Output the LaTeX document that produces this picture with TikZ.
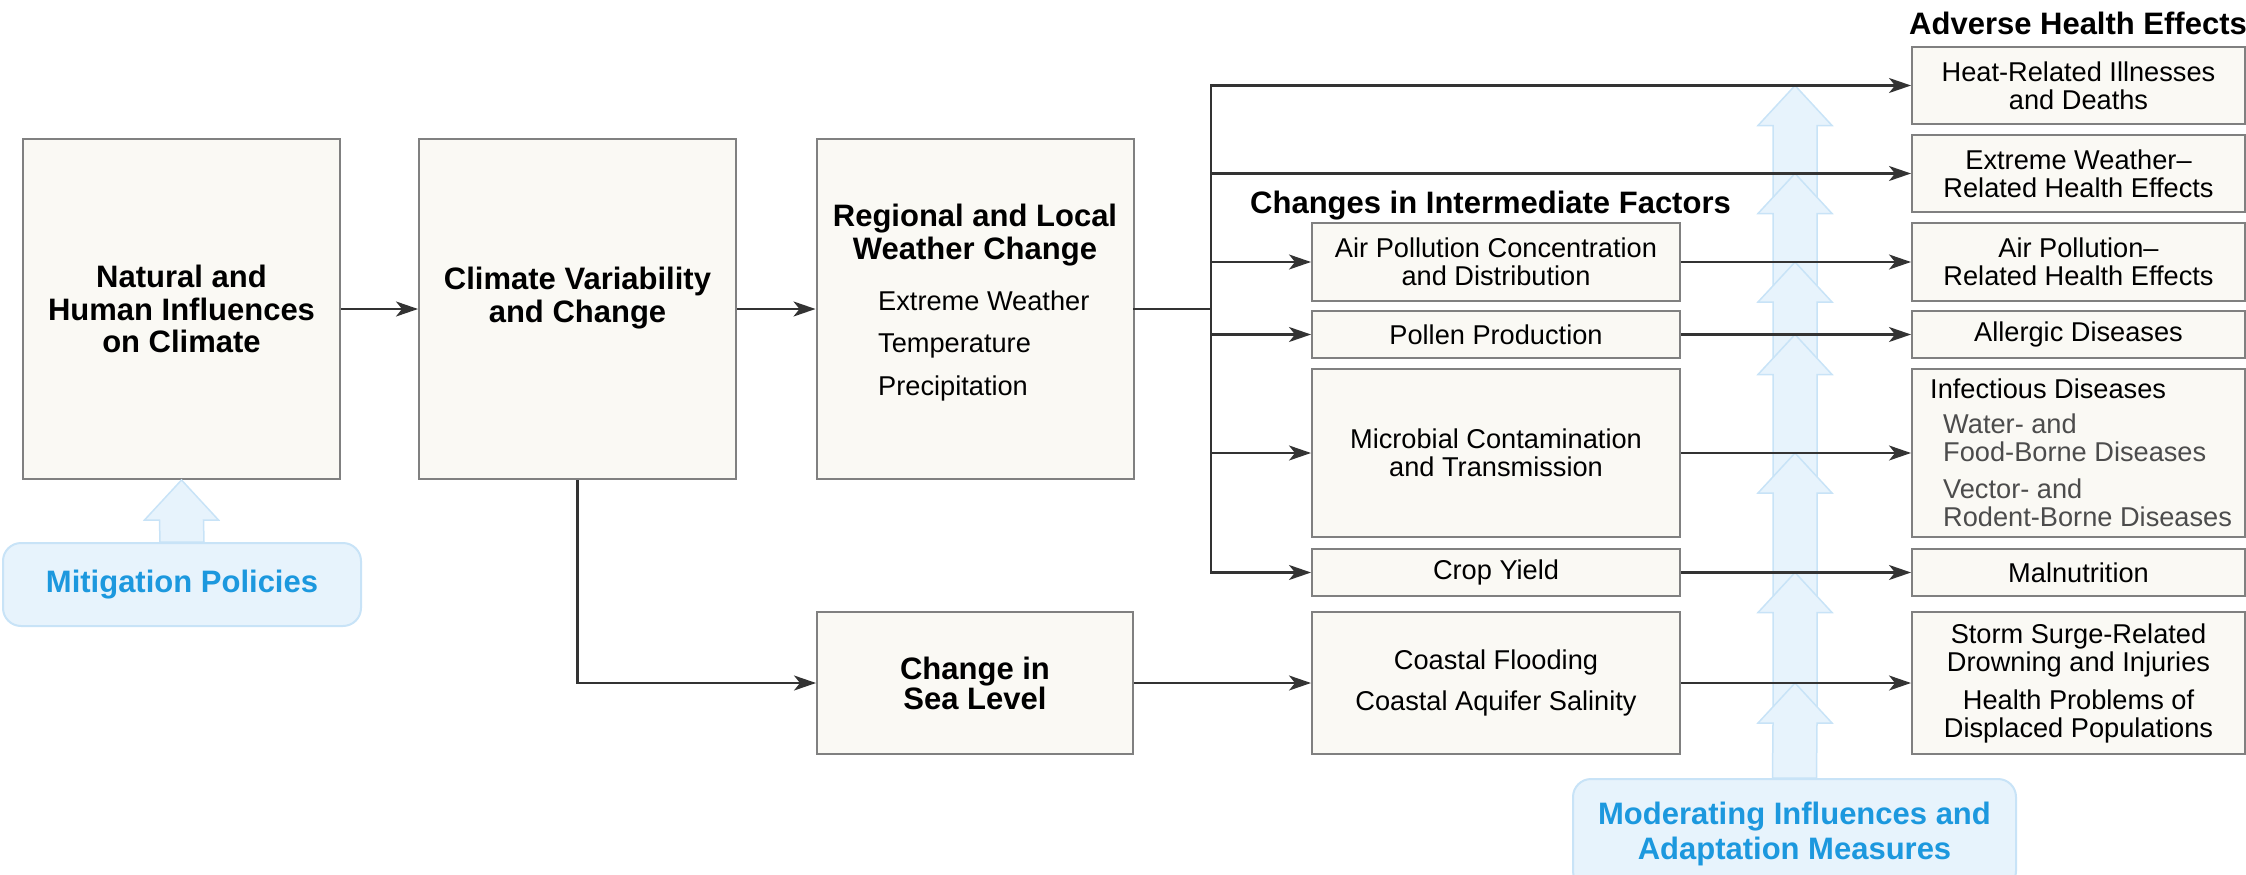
\documentclass[tikz,border=0pt]{standalone}
\usepackage{fontspec}
\setmainfont{Liberation Sans}
\usepackage{tikz}
\usetikzlibrary{arrows.meta,positioning,calc}
\definecolor{boxfill}{RGB}{250,249,244}
\definecolor{boxline}{RGB}{128,128,128}
\definecolor{modblue}{RGB}{28,152,222}
\definecolor{modfill}{RGB}{231,243,252}
\definecolor{modline}{RGB}{200,227,247}
\newcommand{\tcm}[1]{\textcolor{modblue}{#1}}
\newcommand{\txtfont}{\fontsize{27.2}{28}\selectfont}
\newcommand{\ttlfont}{\fontsize{31}{32.5}\selectfont\bfseries}
\newcommand{\upblock}[3]{%
  \filldraw[modarrow] (#1) -- ++(37,40) -- ++(-15,0) -- ($(#2)+(22,#3)$)
    -- ($(#2)+(-22,#3)$) -- ($(#1)+(-22,40)$) -- ++(-15,0) -- cycle;}

\begin{document}
\begin{tikzpicture}[x=1pt,y=-1pt,
  panel/.style={draw=boxline,fill=boxfill,line width=2pt,inner sep=0pt,align=center,font=\txtfont},
  bigpanel/.style={panel,minimum width=317pt,minimum height=340pt,font=\ttlfont},
  midpanel/.style={panel,minimum width=368pt},
  effpanel/.style={panel,minimum width=333pt},
  ttl/.style={align=center,font=\ttlfont,inner sep=0pt},
  txt/.style={font=\txtfont,inner sep=0pt},
  bluebox/.style={draw=modline,fill=modfill,line width=2pt,rounded corners=18pt,align=center,
    font=\fontsize{31}{35}\selectfont\bfseries},
  modarrow/.style={draw=modline,fill=modfill,line width=1.5pt},
  trunk/.style={draw=black!80,line width=2.2pt,line cap=rect},
  feed/.style={draw=black!80,line width=2.2pt,-{Stealth[length=22pt,width=15pt,inset=6pt]}}]
\useasboundingbox (0,0) rectangle (2246,875);

\node[bigpanel] (nat) at (181.5,309) {Natural and\\Human Influences\\on Climate};
\node[bigpanel] (clim) at (577.5,309) {};
\node[ttl] (climtxt) at (577.5,298) {Climate Variability\\and Change};
\node[bigpanel] (weather) at (975,309) {};
\node[ttl] (weathertxt) at (975,235) {Regional and Local\\Weather Change};
\node[txt,anchor=west,align=left,font=\fontsize{27.2}{42.5}\selectfont] (weatheritems) at (878,345.5) {Extreme Weather\\Temperature\\Precipitation};
\node[panel,minimum width=316pt,minimum height=142pt,font=\fontsize{31}{30}\selectfont\bfseries] (sea) at (975,683) {Change in\\Sea Level};

\node[ttl,anchor=base west] (midhead) at (1250,213) {Changes in Intermediate Factors};
\node[midpanel,minimum height=78pt] (airpol) at (1496,262) {Air Pollution Concentration\\and Distribution};
\node[midpanel,minimum height=47pt] (pollen) at (1496,334.5) {Pollen Production};
\node[midpanel,minimum height=168pt] (microbial) at (1496,453) {Microbial Contamination\\and Transmission};
\node[midpanel,minimum height=47pt] (crop) at (1496,572.5) {Crop Yield};
\node[midpanel,minimum height=142pt] (coastal) at (1496,683) {Coastal Flooding\\[13pt]Coastal Aquifer Salinity};

\node[ttl,anchor=base west] (effhead) at (1909,35) {Adverse Health Effects};
\node[effpanel,minimum height=77pt] (heat) at (2078.5,85.5) {Heat-Related Illnesses\\and Deaths};
\node[effpanel,minimum height=77pt] (extremeh) at (2078.5,173.5) {Extreme Weather--\\Related Health Effects};
\node[effpanel,minimum height=78pt] (airpolh) at (2078.5,262) {Air Pollution--\\Related Health Effects};
\node[effpanel,minimum height=47pt] (allergic) at (2078.5,334.5) {Allergic Diseases};
\node[effpanel,minimum height=168pt] (infect) at (2078.5,453) {};
\node[txt,anchor=west,align=left] (infecttxt) at ([xshift=19pt]infect.west) {Infectious Diseases\\[7pt]
  \hspace*{13pt}\textcolor{black!70}{Water- and}\\\hspace*{13pt}\textcolor{black!70}{Food-Borne Diseases}\\[9pt]
  \hspace*{13pt}\textcolor{black!70}{Vector- and}\\\hspace*{13pt}\textcolor{black!70}{Rodent-Borne Diseases}};
\node[effpanel,minimum height=47pt] (malnut) at (2078.5,572.5) {Malnutrition};
\node[effpanel,minimum height=142pt] (storm) at (2078.5,683) {Storm Surge-Related\\Drowning and Injuries\\[10pt]Health Problems of\\Displaced Populations};

\node[bluebox,minimum width=358pt,minimum height=83pt] (mitig) at (182,584.5) {\tcm{Mitigation Policies}};
\node[bluebox,minimum width=443pt,minimum height=110pt] (moder) at (1794.5,834) {\tcm{Moderating Influences and}\\\tcm{Adaptation Measures}};

\coordinate (bus) at (1211,309);
\coordinate (modx) at (1795,0);

\upblock{nat.south}{mitig.north}{0}
\foreach \a/\b in {heat/extremeh,extremeh/airpolh,airpolh/allergic,allergic/infect,infect/malnut,malnut/storm}
  {\upblock{modx |- \a.west}{modx |- \b.west}{40}}
\upblock{modx |- storm.west}{moder.north}{0}

\draw[feed] (nat) -- (clim);
\draw[feed] (clim) -- (weather);
\draw[trunk] (weather.east) -- (bus);
\draw[trunk] (bus |- heat.west) -- (bus |- crop.west);
\foreach \n in {heat,extremeh,airpol,pollen,microbial,crop}
  \draw[feed] (bus |- \n.west) -- (\n.west);
\foreach \a/\b in {airpol/airpolh,pollen/allergic,microbial/infect,crop/malnut,coastal/storm}
  \draw[feed] (\a.east) -- (\b.west);
\draw[feed] (clim.south) |- (sea.west);
\draw[feed] (sea) -- (coastal);

\end{tikzpicture}
\end{document}
